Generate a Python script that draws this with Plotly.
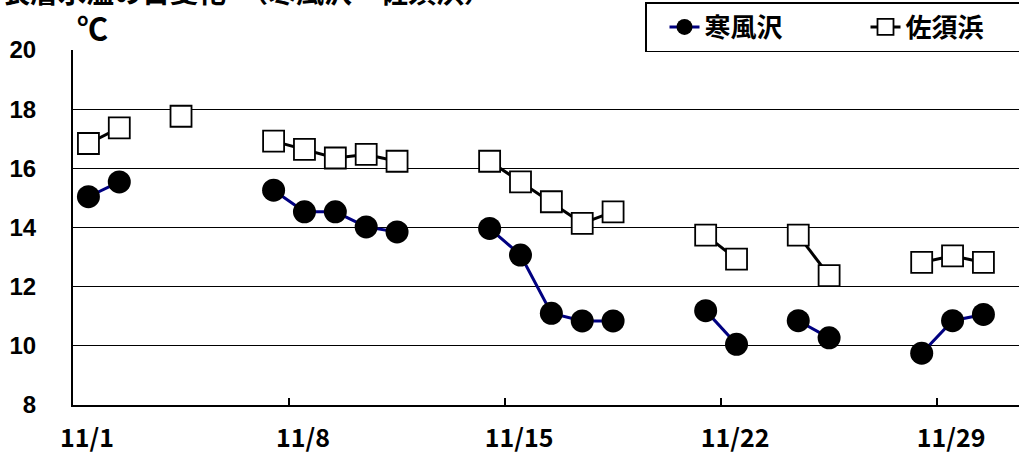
import plotly.graph_objects as go

days = ["2008-11-%02d" % d for d in range(1, 31)]

# 寒風沢 (None = no observation)
kanpuzawa = [15.04, 15.54, None, None, None, None, 15.26, 14.53, 14.53, 14.02,
             13.85, None, None, 13.97, 13.07, 11.10, 10.84, 10.84, None, None,
             11.19, 10.05, None, 10.85, 10.27, None, None, 9.75, 10.85, 11.06]
# 佐須浜
susahama = [16.84, 17.37, None, 17.76, None, None, 16.92, 16.64, 16.35, 16.47,
            16.24, None, None, 16.24, 15.54, 14.87, 14.14, 14.53, None, None,
            13.74, 12.93, None, 13.74, 12.37, None, None, 12.82, 13.04, 12.82]

tick_dates = ["2008-11-01", "2008-11-08", "2008-11-15", "2008-11-22", "2008-11-29"]
tick_text = ["11/1", "11/8", "11/15", "11/22", "11/29"]
y_ticks = [8, 10, 12, 14, 16, 18, 20]

title_text = "表層水温の日変化　（寒風沢・佐須浜）"

PW, PH = 946, 355

fig = go.Figure()
fig.add_trace(go.Scatter(
    x=days, y=kanpuzawa, name="寒風沢", mode="lines+markers",
    xperiod=86400000, xperiodalignment="middle",
    line=dict(color="#000080", width=3),
    marker=dict(symbol="circle", size=23, color="#000000",
                line=dict(color="#000000", width=0)),
    connectgaps=False,
))
fig.add_trace(go.Scatter(
    x=days, y=susahama, name="佐須浜", mode="lines+markers",
    xperiod=86400000, xperiodalignment="middle",
    line=dict(color="#000000", width=3),
    marker=dict(symbol="square", size=21, color="#ffffff",
                line=dict(color="#000000", width=1.8)),
    connectgaps=False,
))

fig.update_layout(
    width=1019, height=454,
    margin=dict(l=73, r=0, t=50, b=49, autoexpand=False),
    plot_bgcolor="#ffffff", paper_bgcolor="#ffffff",
    font=dict(family="Noto Sans CJK JP", color="#000000"),
    legend=dict(
        orientation="h", xref="paper", yref="paper",
        x=(645 - 73) / PW, y=1 + 48 / PH, xanchor="left", yanchor="top",
        bgcolor="#ffffff", bordercolor="#000000", borderwidth=1.5,
        font=dict(family="Noto Sans CJK JP", size=26, weight="bold"),
        itemwidth=30, entrywidth=138, entrywidthmode="pixels",
        indentation=18,
    ),
    annotations=[
        dict(text="℃", xref="paper", yref="paper", x=(75 - 73) / PW, y=1 - 1 / PH,
             xanchor="left", yanchor="bottom", showarrow=False,
             font=dict(family="Noto Sans CJK JP", size=31, weight="bold")),
        dict(text=title_text, xref="paper", yref="paper", x=-73 / PW, y=1 + 37 / PH,
             xanchor="left", yanchor="bottom", showarrow=False,
             font=dict(family="Noto Sans CJK JP", size=28, weight="bold")),
    ],
)

fig.update_xaxes(
    type="date", automargin=False,
    range=["2008-11-01", "2008-12-01 15:40"],
    tickvals=tick_dates, ticktext=tick_text,
    ticks="inside", ticklen=7, tickwidth=1.5, tickcolor="#000000",
    ticklabelshift=14, ticklabelstandoff=10,
    showgrid=False, showline=True, linecolor="#000000", linewidth=2,
    tickfont=dict(family="Noto Sans CJK JP", size=25, weight="bold"),
    zeroline=False,
)
fig.update_yaxes(
    automargin=False,
    range=[8, 20], tickvals=y_ticks,
    ticks="", ticklabelstandoff=30,
    showgrid=True, gridcolor="#000000", gridwidth=1.3,
    showline=True, linecolor="#000000", linewidth=2,
    tickfont=dict(family="Liberation Sans", size=24, weight="bold"),
    zeroline=False,
)

fig.write_html(
    "out.html",
    config={"displayModeBar": False},
    post_script="document.body.style.margin='0';document.body.style.overflow='hidden';",
)
